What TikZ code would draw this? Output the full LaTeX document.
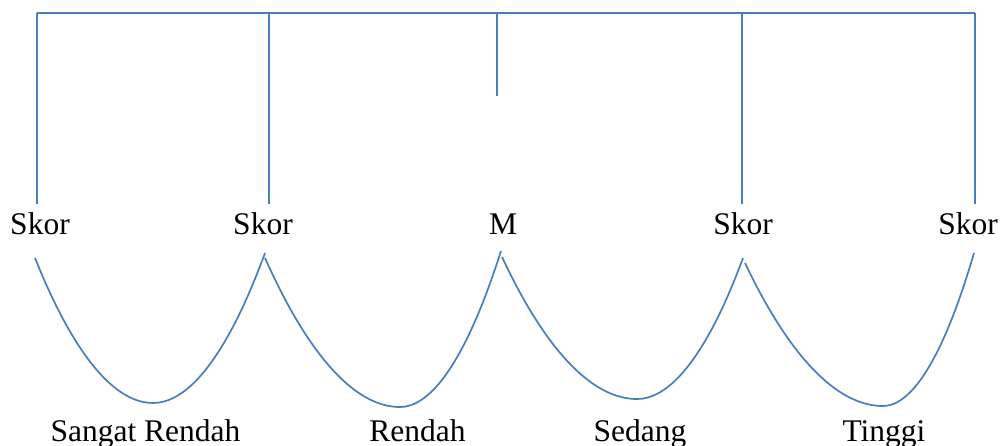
\documentclass[tikz,border=0pt]{standalone}
\usepackage{fontspec}
\setmainfont{Liberation Serif}
\definecolor{linecol}{HTML}{4A7EBB}
\begin{document}
\begin{tikzpicture}[x=1pt,y=-1pt,
  conn/.style={draw=linecol,line width=1.7pt},
  lbl/.style={inner sep=0pt,anchor=base,font=\fontsize{31.5}{38}\selectfont}]
\useasboundingbox (0,0) rectangle (1000,445);
% top bar coordinates
\coordinate (t1) at (37,13);
\coordinate (t2) at (269,13);
\coordinate (t3) at (497,13);
\coordinate (t4) at (742,13);
\coordinate (t5) at (975,13);
% vertical ends
\coordinate (v1) at (37,204);
\coordinate (v2) at (269,204);
\coordinate (v3) at (497,96);
\coordinate (v4) at (742,204);
\coordinate (v5) at (975,204);
% labels
\node[lbl] (s1) at (40,234) {Skor};
\node[lbl] (s2) at (263,234) {Skor};
\node[lbl] (m)  at (503,234) {M};
\node[lbl] (s4) at (743,234) {Skor};
\node[lbl] (s5) at (968,234) {Skor};
\node[lbl] (c1) at (145.5,441) {Sangat Rendah};
\node[lbl] (c2) at (417.5,441) {Rendah};
\node[lbl] (c3) at (640,441) {Sedang};
\node[lbl] (c4) at (884,441) {Tinggi};
% curve points
\coordinate (a1) at (35,258);   \coordinate (b1) at (153,403);  \coordinate (e1) at (265,253);
\coordinate (a2) at (265,258);  \coordinate (b2) at (400,407);  \coordinate (e2) at (501,251);
\coordinate (a3) at (502,257);  \coordinate (b3) at (637,399);  \coordinate (e3) at (743,258);
\coordinate (a4) at (745,263);  \coordinate (b4) at (883,406);  \coordinate (e4) at (974,253);
% drawing
\draw[conn] (t1) -- (t5);
\draw[conn] (t1) -- (v1);
\draw[conn] (t2) -- (v2);
\draw[conn] (t3) -- (v3);
\draw[conn] (t4) -- (v4);
\draw[conn] (t5) -- (v5);
\draw[conn] (a1) parabola bend (b1) (e1);
\draw[conn] (a2) parabola bend (b2) (e2);
\draw[conn] (a3) parabola bend (b3) (e3);
\draw[conn] (a4) parabola bend (b4) (e4);
\end{tikzpicture}
\end{document}
